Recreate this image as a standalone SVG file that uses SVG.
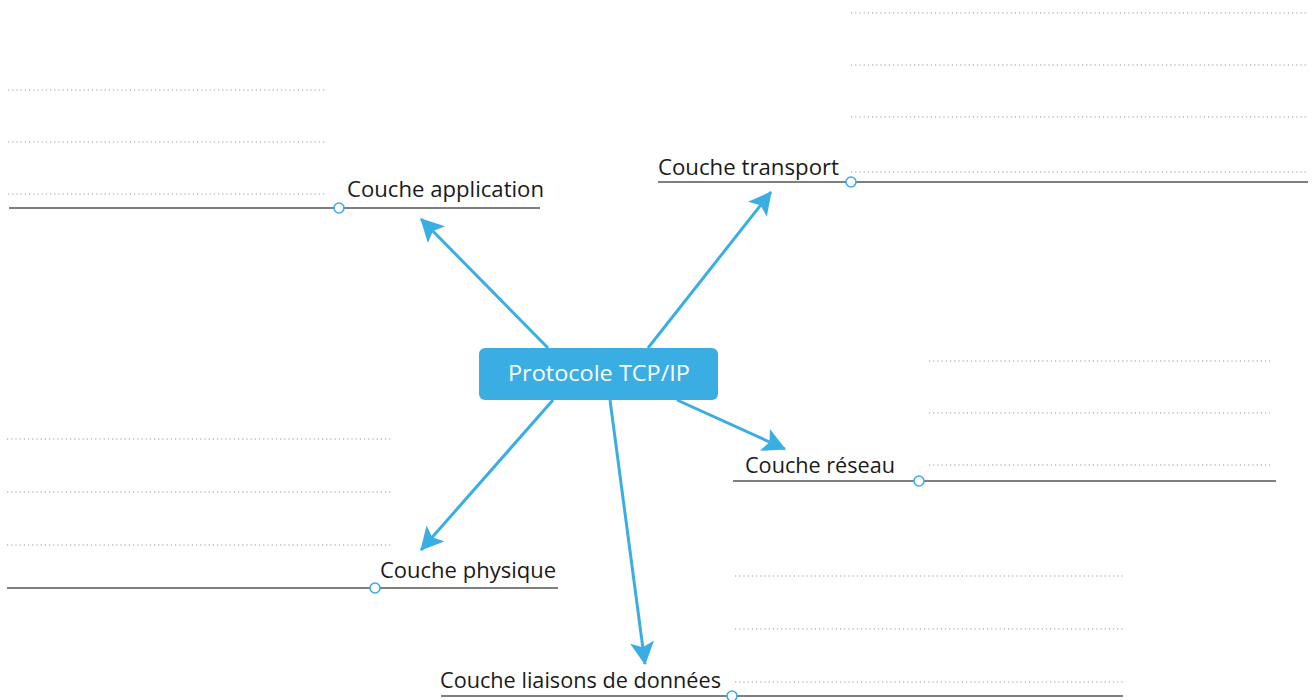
<svg xmlns="http://www.w3.org/2000/svg" width="1314" height="700" viewBox="0 0 1314 700">
<style>
.lbl{font-family:"Open Sans","Noto Sans",sans-serif;font-size:21px;fill:#1a1a1a}
.under{stroke:#555;stroke-width:1.6;fill:none}
.dot{stroke:#9a9a9a;stroke-width:1.2;stroke-dasharray:1.2 3;fill:none}
.knob{fill:#fff;stroke:#3aaee3;stroke-width:1.6}
.conn{stroke:#3aaee3;stroke-width:3;fill:none;marker-end:url(#ah)}
</style>
<defs>
<marker id="ah" markerUnits="userSpaceOnUse" markerWidth="26" markerHeight="24" refX="22" refY="12" orient="auto">
<path d="M0,0 L23,12 L0,24 L5,12 Z" fill="#3aaee3"/>
</marker>
</defs>
<rect width="1314" height="700" fill="#fff"/>
<g id="connectors">
<line class="conn" x1="548" y1="348" x2="421" y2="219"/>
<line class="conn" x1="648" y1="348" x2="771" y2="192"/>
<line class="conn" x1="677" y1="400" x2="785" y2="449"/>
<line class="conn" x1="553" y1="400" x2="421" y2="550"/>
<line class="conn" x1="610" y1="400" x2="645" y2="664"/>
</g>
<g id="center">
<rect x="479" y="348" width="239" height="52" rx="6" fill="#3aaee3"/>
<text x="508" y="381" textLength="182" lengthAdjust="spacingAndGlyphs" font-family="Open Sans, Noto Sans, sans-serif" font-size="21" fill="#fff">Protocole TCP/IP</text>
</g>
<g id="application">
<line class="dot" x1="8" y1="90" x2="325" y2="90"/>
<line class="dot" x1="8" y1="142" x2="325" y2="142"/>
<line class="dot" x1="8" y1="194" x2="325" y2="194"/>
<line class="under" x1="9" y1="208" x2="540" y2="208"/>
<circle class="knob" cx="339" cy="208" r="5"/>
<text class="lbl" x="347" y="197" textLength="197" lengthAdjust="spacingAndGlyphs">Couche application</text>
</g>
<g id="transport">
<line class="dot" x1="851" y1="13" x2="1306" y2="13"/>
<line class="dot" x1="851" y1="65" x2="1306" y2="65"/>
<line class="dot" x1="851" y1="117" x2="1306" y2="117"/>
<line class="dot" x1="851" y1="172" x2="1306" y2="172"/>
<line class="under" x1="658" y1="182" x2="1308" y2="182"/>
<circle class="knob" cx="851" cy="182" r="5"/>
<text class="lbl" x="658" y="175" textLength="181" lengthAdjust="spacingAndGlyphs">Couche transport</text>
</g>
<g id="reseau">
<line class="dot" x1="929" y1="361" x2="1270" y2="361"/>
<line class="dot" x1="929" y1="413" x2="1270" y2="413"/>
<line class="dot" x1="929" y1="465" x2="1270" y2="465"/>
<line class="under" x1="733" y1="481" x2="1276" y2="481"/>
<circle class="knob" cx="919" cy="481" r="5"/>
<text class="lbl" x="745" y="473" textLength="150" lengthAdjust="spacingAndGlyphs">Couche réseau</text>
</g>
<g id="physique">
<line class="dot" x1="7" y1="439" x2="392" y2="439"/>
<line class="dot" x1="7" y1="492" x2="392" y2="492"/>
<line class="dot" x1="7" y1="545" x2="392" y2="545"/>
<line class="under" x1="7" y1="588" x2="558" y2="588" stroke="#222"/>
<circle class="knob" cx="375" cy="588" r="5"/>
<text class="lbl" x="380" y="578" textLength="176" lengthAdjust="spacingAndGlyphs">Couche physique</text>
</g>
<g id="liaisons">
<line class="dot" x1="735" y1="576" x2="1124" y2="576"/>
<line class="dot" x1="735" y1="629" x2="1124" y2="629"/>
<line class="dot" x1="735" y1="682" x2="1124" y2="682"/>
<line class="under" x1="441" y1="696" x2="1123" y2="696"/>
<circle class="knob" cx="732" cy="696" r="5"/>
<text class="lbl" x="440" y="688" textLength="281" lengthAdjust="spacingAndGlyphs">Couche liaisons de données</text>
</g>
</svg>
